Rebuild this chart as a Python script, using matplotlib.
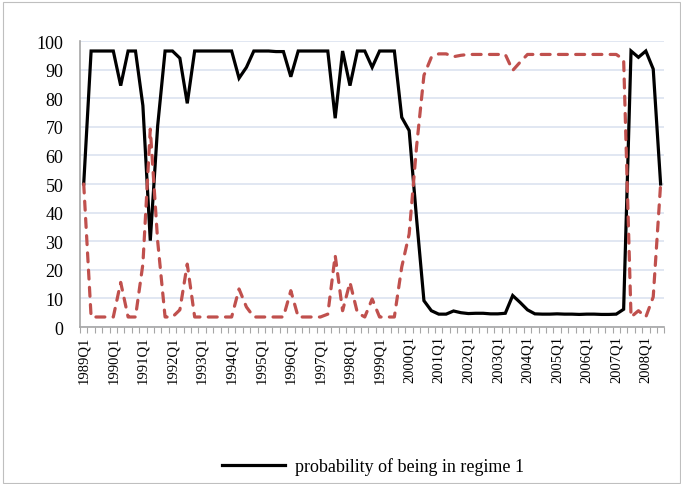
import matplotlib
matplotlib.use('Agg')
import matplotlib.pyplot as plt
from matplotlib.patches import Rectangle
from matplotlib.ticker import FixedLocator

plt.rcParams['font.family'] = ['Liberation Serif', 'DejaVu Serif']

# quarterly probabilities, 1989Q1 .. 2008Q3
quarters = [f'{y}Q{q}' for y in range(1989, 2009) for q in range(1, 5)][:79]

regime1 = [
    50.0, 96.5, 96.5, 96.5, 96.5, 84.4, 96.5, 96.5,
    77.4, 30.2, 70.4, 96.5, 96.5, 94.0, 78.2, 96.5,
    96.5, 96.5, 96.5, 96.5, 96.5, 87.0, 90.8, 96.5,
    96.5, 96.5, 96.3, 96.3, 87.5, 96.5, 96.5, 96.5,
    96.5, 96.5, 73.0, 96.5, 84.4, 96.5, 96.5, 90.8,
    96.5, 96.5, 96.5, 73.3, 68.7, 38.0, 9.2, 5.7,
    4.5, 4.5, 5.6, 5.0, 4.7, 4.8, 4.8, 4.6,
    4.6, 4.8, 11.0, 8.6, 6.0, 4.6, 4.5, 4.5,
    4.6, 4.5, 4.5, 4.4, 4.5, 4.5, 4.4, 4.4,
    4.5, 6.2, 96.5, 94.3, 96.5, 90.2, 50.0,
]

regime2 = [
    50.0, 3.5, 3.5, 3.5, 3.5, 15.6, 3.5, 3.5,
    22.0, 69.2, 30.0, 3.5, 3.5, 6.0, 22.0, 3.5,
    3.5, 3.5, 3.5, 3.5, 3.5, 13.3, 7.0, 3.5,
    3.5, 3.5, 3.5, 3.5, 12.7, 3.5, 3.5, 3.5,
    3.5, 4.5, 25.0, 5.7, 15.6, 5.0, 3.5, 9.8,
    3.5, 3.5, 3.5, 21.0, 32.5, 63.0, 88.0, 94.3,
    95.5, 95.5, 94.5, 95.0, 95.3, 95.3, 95.3, 95.3,
    95.3, 95.3, 89.7, 92.6, 95.3, 95.3, 95.3, 95.3,
    95.3, 95.3, 95.3, 95.3, 95.3, 95.3, 95.3, 95.3,
    95.3, 93.5, 3.5, 5.7, 3.5, 10.5, 50.0,
]

x = list(range(len(quarters)))

fig = plt.figure(figsize=(6.81, 4.85), dpi=100)
ax = fig.add_axes([0.1175, 0.3237, 0.858, 0.5897])

# outer chart border
fig.patches.append(Rectangle((0.004, 0.002), 0.994, 0.992, transform=fig.transFigure,
                             fill=False, edgecolor='#BFBFBF', linewidth=0.8))

line1, = ax.plot(x, regime1, color='black', linewidth=2.3,
                 solid_joinstyle='miter', label='probability of being in regime 1')
ax.plot(x, regime2, color='#C0504D', linewidth=2.3,
        linestyle=(0, (2.8, 2.6)), dash_capstyle='round')

ax.set_xlim(-0.5, len(x) - 0.5)
ax.set_ylim(0, 100)
ax.set_yticks(range(0, 101, 10))
ax.yaxis.grid(True, color='#DCE3F0', linewidth=1.2)
ax.set_axisbelow(True)

ax.set_xticks(x[::4])
ax.set_xticklabels(quarters[::4], rotation=90, fontsize=10.5)
ax.xaxis.set_minor_locator(FixedLocator([i - 0.5 for i in range(len(x) + 1)]))
ax.tick_params(axis='x', which='major', length=0, pad=6)
ax.tick_params(axis='x', which='minor', length=4, color='#A6A6A6', width=0.8)
ax.tick_params(axis='y', length=0, labelsize=13, pad=12)

for side in ['top', 'right']:
    ax.spines[side].set_visible(False)
ax.spines['left'].set_color('#A6A6A6')
ax.spines['bottom'].set_color('#A6A6A6')
ax.spines['left'].set_linewidth(1.2)
ax.spines['bottom'].set_linewidth(1.2)

fig.legend(handles=[line1], loc='center', bbox_to_anchor=(0.548, 0.037),
           frameon=False, fontsize=13, handlelength=3.5, handletextpad=0.55)

fig.savefig('out.png', dpi=100)
